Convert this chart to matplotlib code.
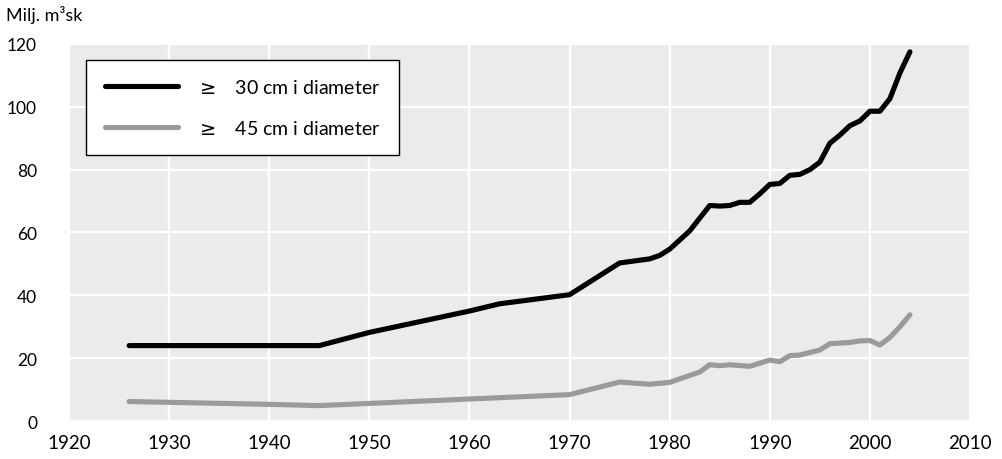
import matplotlib
matplotlib.use("Agg")
import matplotlib.pyplot as plt

plt.rcParams['font.family'] = ['Lato', 'DejaVu Sans']
plt.rcParams['mathtext.fontset'] = 'dejavusans'

# ---- data ----
years_30 = [1926, 1945, 1950, 1955, 1960, 1963, 1970, 1975, 1978, 1979, 1980,
            1982, 1984, 1985, 1986, 1987, 1988, 1989, 1990, 1991, 1992, 1993,
            1994, 1995, 1996, 1997, 1998, 1999, 2000, 2001, 2002, 2003, 2004]
vol_30 = [24.0, 24.0, 28.2, 31.6, 35.0, 37.3, 40.2, 50.3, 51.6, 52.7, 54.7,
          60.5, 68.6, 68.4, 68.6, 69.6, 69.6, 72.3, 75.3, 75.6, 78.2, 78.5,
          80.0, 82.4, 88.4, 91.0, 94.0, 95.5, 98.6, 98.6, 102.6, 110.8, 117.5]

years_45 = [1926, 1940, 1945, 1960, 1970, 1975, 1978, 1980, 1983, 1984, 1985,
            1986, 1988, 1990, 1991, 1992, 1993, 1995, 1996, 1997, 1998, 1999,
            2000, 2001, 2002, 2003, 2004]
vol_45 = [6.2, 5.3, 4.9, 7.0, 8.4, 12.4, 11.7, 12.3, 15.6, 17.9, 17.6,
          17.9, 17.4, 19.4, 18.9, 20.8, 21.0, 22.6, 24.6, 24.8, 25.0, 25.5,
          25.6, 24.2, 26.6, 30.0, 33.8]

labels = [r"$\geq$   30 cm i diameter", r"$\geq$   45 cm i diameter"]
x_ticks = list(range(1920, 2011, 10))
y_ticks = list(range(0, 121, 20))
y_title = "Milj. m\u00b3sk"

# ---- figure ----
fig = plt.figure(figsize=(10.03, 4.60), dpi=100)
ax = fig.add_axes([0.0688, 0.0826, 0.8983, 0.8196])
ax.set_facecolor('#ebebeb')

ax.plot(years_30, vol_30, color='black', lw=3.7, solid_capstyle='round',
        solid_joinstyle='round', label=labels[0], zorder=3)
ax.plot(years_45, vol_45, color='#9a9a9a', lw=3.7, solid_capstyle='round',
        solid_joinstyle='round', label=labels[1], zorder=3)

ax.set_xlim(1920, 2010)
ax.set_ylim(0, 120)
ax.set_xticks(x_ticks)
ax.set_yticks(y_ticks)
ax.grid(True, color='white', lw=1.6)
ax.set_axisbelow(True)
for s in ax.spines.values():
    s.set_visible(False)
ax.tick_params(length=0, colors='black')
ax.tick_params(axis='x', pad=9, labelsize=13.5)
ax.tick_params(axis='y', pad=23, labelsize=12.5)

fig.text(0.006, 0.967, y_title, fontsize=13, ha='left', va='center')

leg = ax.legend(loc='upper left', bbox_to_anchor=(0.019, 0.958),
                borderaxespad=0, fontsize=14, handlelength=3.8,
                handletextpad=0.9, labelspacing=1.15, borderpad=0.95,
                frameon=True, fancybox=False, framealpha=1, edgecolor='black')
leg.get_frame().set_linewidth(1.0)

fig.savefig('out.png', dpi=100)
